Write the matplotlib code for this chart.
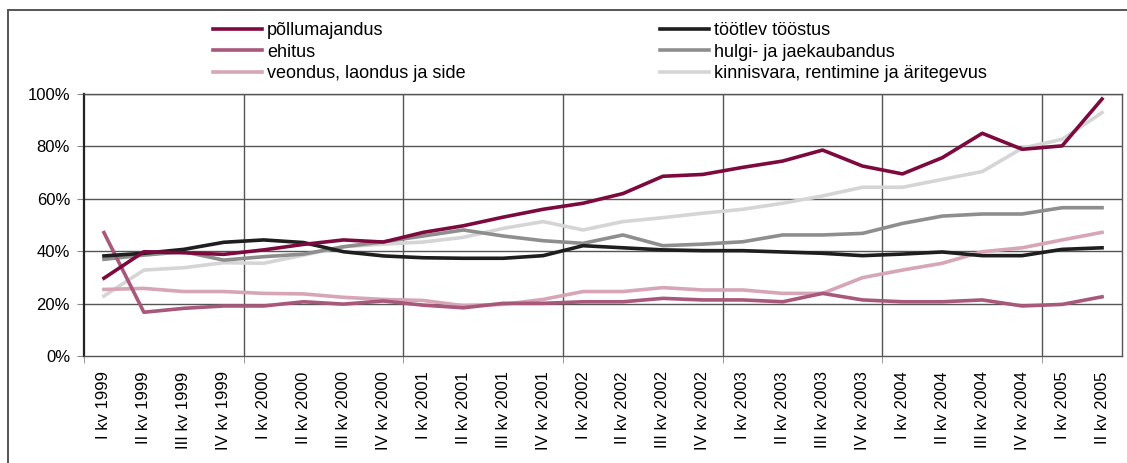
import matplotlib
matplotlib.use('Agg')
import matplotlib.pyplot as plt
from matplotlib.patches import Rectangle

plt.rcParams['font.family'] = ['Liberation Sans', 'DejaVu Sans']

# kvartalid
kvartalid = []
for aasta in range(1999, 2006):
    for kv in ['I', 'II', 'III', 'IV']:
        kvartalid.append(f'{kv} kv {aasta}')
kvartalid = kvartalid[:26]

pollumajandus = [29.7, 39.8, 39.4, 38.8, 40.5, 42.6, 44.3, 43.5, 47.2, 49.7, 53.0, 56.0,
                 58.3, 62.0, 68.6, 69.3, 72.0, 74.4, 78.6, 72.5, 69.5, 75.7, 85.0, 78.9,
                 80.2, 98.1]
tootlev = [38.2, 39.2, 40.7, 43.4, 44.3, 43.3, 39.8, 38.2, 37.5, 37.3, 37.3, 38.3,
           42.1, 41.3, 40.5, 40.2, 40.2, 39.7, 39.2, 38.3, 38.9, 39.7, 38.3, 38.3,
           40.7, 41.3]
ehitus = [47.1, 16.7, 18.2, 19.1, 19.1, 20.7, 19.8, 21.0, 19.4, 18.4, 20.1, 20.1,
          20.7, 20.7, 22.0, 21.4, 21.4, 20.7, 23.9, 21.4, 20.7, 20.7, 21.4, 19.1,
          19.7, 22.6]
hulgi = [36.9, 38.5, 39.8, 36.6, 37.9, 38.9, 41.7, 43.6, 45.8, 48.1, 45.8, 44.0,
         43.0, 46.2, 42.1, 42.7, 43.6, 46.2, 46.2, 46.8, 50.6, 53.4, 54.2, 54.2,
         56.6, 56.6]
veondus = [25.4, 25.8, 24.6, 24.6, 23.9, 23.7, 22.4, 21.6, 21.2, 19.2, 19.7, 21.6,
           24.6, 24.6, 26.1, 25.2, 25.2, 23.9, 23.9, 29.9, 32.8, 35.4, 39.8, 41.3,
           44.3, 47.2]
kinnisvara = [22.9, 32.8, 33.7, 35.6, 35.4, 38.5, 41.7, 42.7, 43.5, 45.3, 48.7, 51.3,
              48.1, 51.3, 52.8, 54.5, 56.0, 58.3, 61.1, 64.4, 64.4, 67.4, 70.4, 79.3,
              82.7, 92.9]

fig = plt.figure(figsize=(11.27, 4.63), dpi=100)
ax = fig.add_axes([84/1127, 1 - 356/463, (1122 - 84)/1127, (356 - 94)/463])

# raam ümber joonise
fig.patches.append(Rectangle((8/1127, -0.1), 1.2, 1 - 10/463 + 0.1, transform=fig.transFigure,
                             fill=False, edgecolor='#555555', linewidth=1.4, zorder=0))

x = range(len(kvartalid))
lw = 2.6
l1, = ax.plot(x, pollumajandus, color='#7d0a3e', lw=lw, zorder=8)
l4, = ax.plot(x, tootlev, color='#1e1e1e', lw=lw, zorder=6)
l2, = ax.plot(x, ehitus, color='#a8587a', lw=lw, zorder=5)
l5, = ax.plot(x, hulgi, color='#8e8e8e', lw=lw, zorder=4)
l3, = ax.plot(x, veondus, color='#d6a6b6', lw=lw, zorder=3)
l6, = ax.plot(x, kinnisvara, color='#d5d5d5', lw=lw, zorder=2)

ax.set_xlim(-0.5, len(kvartalid) - 0.5)
ax.set_ylim(0, 100)
ax.set_yticks(range(0, 101, 20))
ax.set_yticklabels([f'{v}%' for v in range(0, 101, 20)], fontsize=12)
ax.set_xticks(list(x))
ax.set_xticklabels(kvartalid, rotation=90, fontsize=12)
ax.set_xticks([i - 0.5 for i in range(0, 27, 4)], minor=True)
ax.tick_params(axis='x', which='major', length=0, pad=11)
ax.tick_params(axis='x', which='minor', length=5, color='#888888')
ax.tick_params(axis='y', length=5, pad=5, color='#888888')

for v in range(20, 101, 20):
    ax.axhline(v, color='#555555', lw=1, zorder=1)
for b in range(4, 26, 4):
    ax.axvline(b - 0.5, color='#555555', lw=1, zorder=1)
for s in ['top', 'right']:
    ax.spines[s].set_color('#555555')
    ax.spines[s].set_linewidth(1)
ax.spines['left'].set_color('#222222')
ax.spines['left'].set_linewidth(1.6)
ax.spines['bottom'].set_color('#555555')
ax.spines['bottom'].set_linewidth(1)

leg_kw = dict(frameon=False, fontsize=13, handlelength=2.7, handletextpad=0.3,
              labelspacing=0.25, borderpad=0, loc='upper left')
fig.legend([l1, l2, l3], ['põllumajandus', 'ehitus', 'veondus, laondus ja side'],
           bbox_to_anchor=(204/1127, 1 - 13/463), **leg_kw)
fig.legend([l4, l5, l6], ['töötlev tööstus', 'hulgi- ja jaekaubandus',
                          'kinnisvara, rentimine ja äritegevus'],
           bbox_to_anchor=(651/1127, 1 - 13/463), **leg_kw)

fig.savefig('out.png', dpi=100)
